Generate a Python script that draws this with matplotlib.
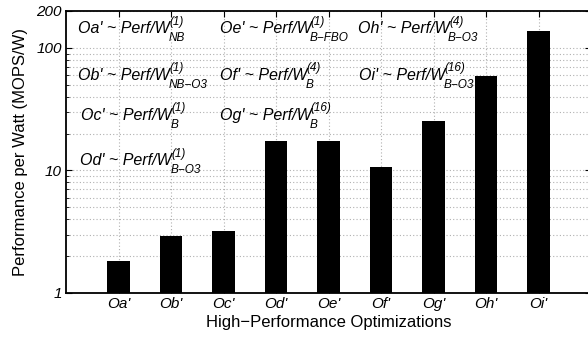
import matplotlib
matplotlib.use("Agg")
import matplotlib.pyplot as plt
from matplotlib.ticker import FixedLocator, LogLocator, NullFormatter

plt.rcParams['font.family'] = ['Liberation Sans', 'DejaVu Sans']

categories = ["Oa'", "Ob'", "Oc'", "Od'", "Oe'", "Of'", "Og'", "Oh'", "Oi'"]
values = [1.82, 2.92, 3.19, 17.5, 17.4, 10.6, 25.4, 59.2, 137]
ytick_vals = [1, 10, 100, 200]
ytick_labels = ["1", "10", "100", "200"]

# (x, y, main text, superscript, subscript)
notes = [
    (0.23, 132, "Oa' ~ Perf/W", "(1)", "NB"),
    (0.23, 55, "Ob' ~ Perf/W", "(1)", "NB\u2212O3"),
    (0.29, 26, "Oc' ~ Perf/W", "(1)", "B"),
    (0.27, 11.0, "Od' ~ Perf/W", "(1)", "B\u2212O3"),
    (2.93, 132, "Oe' ~ Perf/W", "(1)", "B\u2212FBO"),
    (2.93, 55, "Of' ~ Perf/W", "(4)", "B"),
    (2.93, 26, "Og' ~ Perf/W", "(16)", "B"),
    (5.56, 132, "Oh' ~ Perf/W", "(4)", "B\u2212O3"),
    (5.58, 55, "Oi' ~ Perf/W", "(16)", "B\u2212O3"),
]

fig = plt.figure(figsize=(5.88, 3.4), dpi=100)
ax = fig.add_axes([66/588, 47/340, (591-66)/588, (293-11)/340])

x = list(range(1, len(categories) + 1))
ax.bar(x, values, width=0.42, color='black', zorder=3)
ax.set_yscale('log')
ax.set_ylim(1, 200)
ax.set_xlim(0, 10)

ax.set_xticks(x)
ax.set_xticklabels(categories, fontsize=11, style='italic')
ax.yaxis.set_major_locator(FixedLocator(ytick_vals))
ax.set_yticklabels(ytick_labels, fontsize=11, style='italic')
ax.yaxis.set_minor_locator(LogLocator(base=10, subs=range(2, 10)))
ax.yaxis.set_minor_formatter(NullFormatter())

ax.grid(True, which='major', axis='both', color='#b0b0b0', linestyle=(0, (1, 2)), linewidth=0.8, zorder=0)
ax.grid(True, which='minor', axis='y', color='#b0b0b0', linestyle=(0, (1, 2)), linewidth=0.8, zorder=0)

ax.tick_params(which='both', direction='in', top=True, right=True, length=4, pad=3)
ax.tick_params(which='minor', length=2)
for s in ax.spines.values():
    s.set_linewidth(1.3)

ax.set_ylabel("Performance per Watt (MOPS/W)", fontsize=12, labelpad=6)
ax.set_xlabel("High\u2212Performance Optimizations", fontsize=12, labelpad=3)

for nx, ny, txt, sup, sub in notes:
    t = ax.text(nx, ny, txt, fontsize=11.5, style='italic', va='baseline', ha='left', zorder=4)
    ax.annotate(sup, xy=(1, 0), xycoords=t, xytext=(-0.5, 8.2), textcoords='offset points',
                fontsize=8.5, style='italic', va='baseline', ha='left', zorder=4)
    ax.annotate(sub, xy=(1, 0), xycoords=t, xytext=(-1.2, -3.6), textcoords='offset points',
                fontsize=8.5, style='italic', va='baseline', ha='left', zorder=4)

fig.savefig("out.png", dpi=100)
